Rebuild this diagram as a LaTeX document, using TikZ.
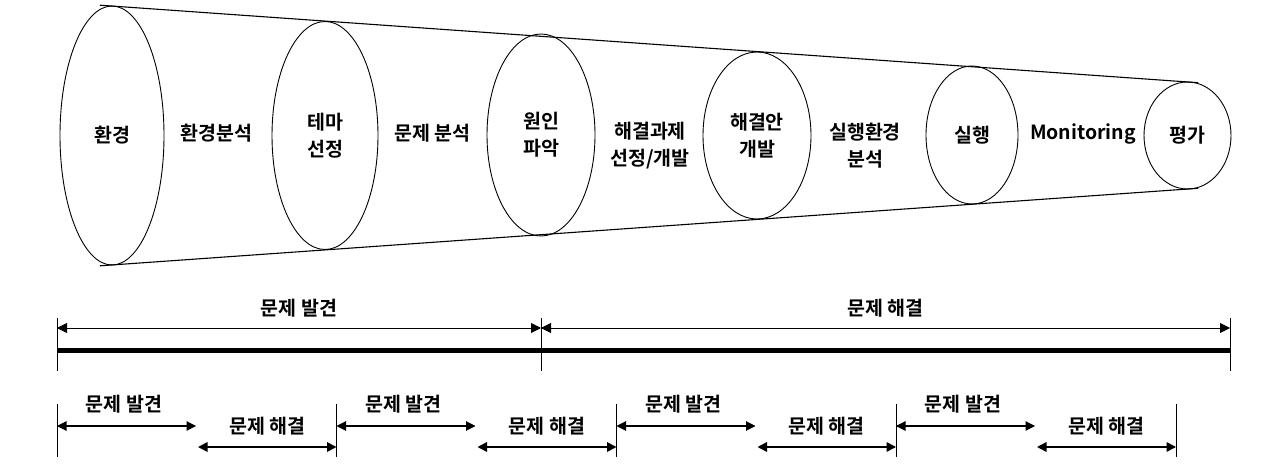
\documentclass[tikz,border=0pt]{standalone}
\usepackage{fontspec}
\setmainfont{Noto Sans CJK KR}[BoldFont=* Bold]
\usetikzlibrary{shapes.geometric,arrows.meta}
\begin{document}
\begin{tikzpicture}[x=1pt,y=-1pt,
  font=\fontsize{19.5}{27}\selectfont\bfseries,
  disc/.style={ellipse,draw,line width=0.9pt,inner sep=0pt,align=center},
  lbl/.style={align=center,inner sep=0pt},
  cone/.style={line width=1.1pt},
  tickline/.style={line width=1pt},
  bigarr/.style={line width=0.9pt,{Triangle[length=10pt,width=10pt]}-{Triangle[length=10pt,width=10pt]}},
  smallarr/.style={line width=1.1pt,{Triangle[length=9.5pt,width=9.5pt]}-{Triangle[length=9.5pt,width=9.5pt]}},
  lowarr/.style={line width=1.6pt,{Triangle[length=9.5pt,width=9.5pt]}-{Triangle[length=9.5pt,width=9.5pt]}},
  thick bar/.style={line width=5pt}
]
\useasboundingbox (0,0) rectangle (1280,470);

% cone outline
\coordinate (ctl) at (100,5.2);
\coordinate (ctr) at (1198,82.7);
\coordinate (cbl) at (100,265.8);
\coordinate (cbr) at (1198,188.3);
\draw[cone] (ctl) -- (ctr);
\draw[cone] (cbl) -- (cbr);

% discs
\node[disc,minimum width=104pt,minimum height=259pt] (e1) at (112,135.5) {환경};
\node[disc,minimum width=106pt,minimum height=228pt] (e2) at (325,135.5) {테마\\선정};
\node[disc,minimum width=108pt,minimum height=202pt] (e3) at (541,135) {원인\\파악};
\node[disc,minimum width=108pt,minimum height=167pt] (e4) at (757,135.5) {해결안\\개발};
\node[disc,minimum width=92pt,minimum height=138pt] (e5) at (972,135) {실행};
\node[disc,minimum width=87pt,minimum height=107pt] (e6) at (1187.5,135.5) {평가};

% stage labels
\node[lbl] (s1) at (216.5,133) {환경분석};
\node[lbl] (s2) at (432.5,133) {문제 분석};
\node[lbl] (s3) at (650,146) {해결과제\\선정/개발};
\node[lbl] (s4) at (865,146) {실행환경\\분석};
\node[lbl] (s5) at (1083,134) {Monitoring};

% top timeline
\coordinate (ta1) at (57,318);   \coordinate (tb1) at (57,371);
\coordinate (ta2) at (541,318);  \coordinate (tb2) at (541,371);
\coordinate (ta3) at (1230,318); \coordinate (tb3) at (1230,371);
\draw[tickline] (ta1) -- (tb1);
\draw[tickline] (ta2) -- (tb2);
\draw[tickline] (ta3) -- (tb3);
\coordinate (p1) at (57,328);
\coordinate (p2) at (541,328);
\coordinate (p3) at (1230,328);
\draw[bigarr] (p1) -- (p2);
\draw[bigarr] (p2) -- (p3);
\coordinate (q1) at (57,350.5);
\coordinate (q3) at (1230,350.5);
\draw[thick bar] (q1) -- (q3);
\node[lbl] (L1) at (299,308) {문제 발견};
\node[lbl] (L2) at (885.5,308) {문제 해결};

% bottom timeline
\foreach \i/\x in {1/57,2/336.5,3/616.5,4/896,5/1176}{
  \coordinate (ua\i) at (\x,404);
  \coordinate (ub\i) at (\x,457);
  \draw[tickline] (ua\i) -- (ub\i);
}
\foreach \i/\j/\x/\y in {1/2/57/336.5,2/3/336.5/616.5,3/4/616.5/896,4/5/896/1176}{
  \coordinate (fa\i) at (\x,426);
  \coordinate (fb\i) at ({\x+139},426);
  \coordinate (ga\i) at ({\x+141},447);
  \coordinate (gb\i) at (\y,447);
  \draw[smallarr] (fa\i) -- (fb\i);
  \draw[lowarr] (ga\i) -- (gb\i);
  \node[lbl] (fl\i) at ({\x+67},404) {문제 발견};
  \node[lbl] (gl\i) at ({(\x+141+\y)/2},426) {문제 해결};
}
\end{tikzpicture}
\end{document}
